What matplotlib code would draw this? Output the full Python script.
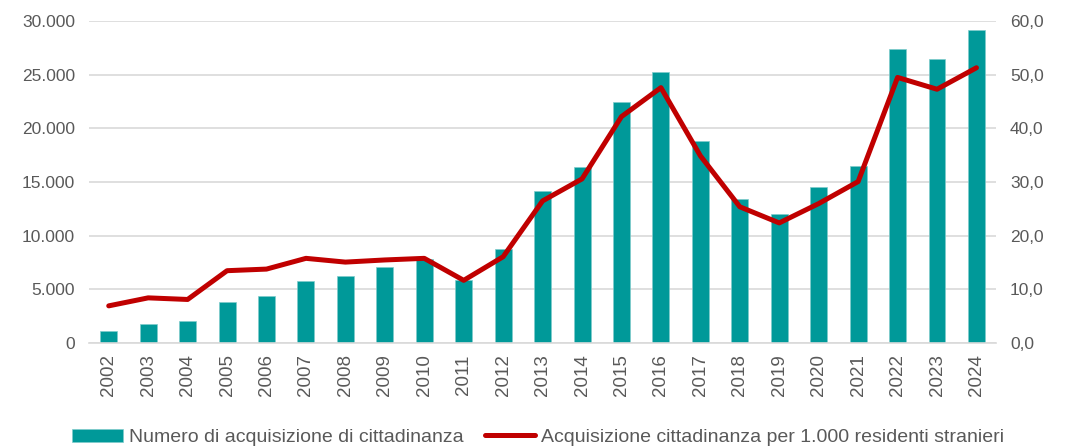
import matplotlib
matplotlib.use("Agg")
import matplotlib.pyplot as plt
from matplotlib.ticker import FuncFormatter
import numpy as np

anni = [str(a) for a in range(2002, 2025)]
acquisizioni = [1090, 1740, 2050, 3880, 4350, 5750, 6270, 7140, 7800, 5900, 8730,
                14170, 16430, 22500, 25260, 18800, 13400, 12000, 14540, 16470,
                27430, 26440, 29200]
per_1000 = [6.95, 8.44, 8.14, 13.5, 13.8, 15.8, 15.1, 15.5, 15.8, 11.7, 16.1,
            26.5, 30.6, 42.2, 47.6, 34.9, 25.4, 22.4, 26.0, 30.1, 49.5, 47.3, 51.3]

plt.rcParams['font.family'] = ['Liberation Sans', 'DejaVu Sans']
grigio = '#595959'

fig = plt.figure(figsize=(10.66, 4.48), dpi=100)
ax = fig.add_axes([0.0835, 0.234, 0.851, 0.719])
ax2 = ax.twinx()

x = np.arange(len(anni))
ax.bar(x, acquisizioni, width=0.43, color='#009999', edgecolor='#7fcccc', linewidth=0.5,
       label='Numero di acquisizione di cittadinanza', zorder=2)
ax2.plot(x, per_1000, color='#C00000', linewidth=3.6, solid_capstyle='round',
         solid_joinstyle='round', label='Acquisizione cittadinanza per 1.000 residenti stranieri')

ax.set_xlim(-0.5, len(anni) - 0.5)
ax.set_ylim(0, 30000)
ax2.set_ylim(0, 60)
ax.set_yticks(range(0, 30001, 5000))
ax2.set_yticks(range(0, 61, 10))
ax.yaxis.set_major_formatter(FuncFormatter(lambda v, p: '0' if v == 0 else f'{int(v):,}'.replace(',', '.')))
ax2.yaxis.set_major_formatter(FuncFormatter(lambda v, p: f'{v:.1f}'.replace('.', ',')))

ax.set_xticks(x)
ax.set_xticklabels(anni, rotation=90)
ax.grid(axis='y', color='#d9d9d9', linewidth=1.2, zorder=0)
ax.set_axisbelow(True)
for a in (ax, ax2):
    for s in a.spines.values():
        s.set_visible(False)
    a.tick_params(length=0, labelsize=12.5, colors=grigio)
ax.tick_params(axis='x', labelsize=13.5, pad=8)
ax.spines['bottom'].set_visible(True)
ax.spines['bottom'].set_color('#d9d9d9')
ax.spines['bottom'].set_linewidth(1.2)
ax.tick_params(axis='y', pad=10)
ax2.tick_params(axis='y', pad=10)

h1, l1 = ax.get_legend_handles_labels()
h2, l2 = ax2.get_legend_handles_labels()
fig.legend(h1 + h2, l1 + l2, loc='lower center', bbox_to_anchor=(0.505, -0.035), ncol=2,
           frameon=False, fontsize=14, labelcolor=grigio, handlelength=2.6,
           handletextpad=0.3, columnspacing=1.1)

plt.savefig('out.png', dpi=100)
